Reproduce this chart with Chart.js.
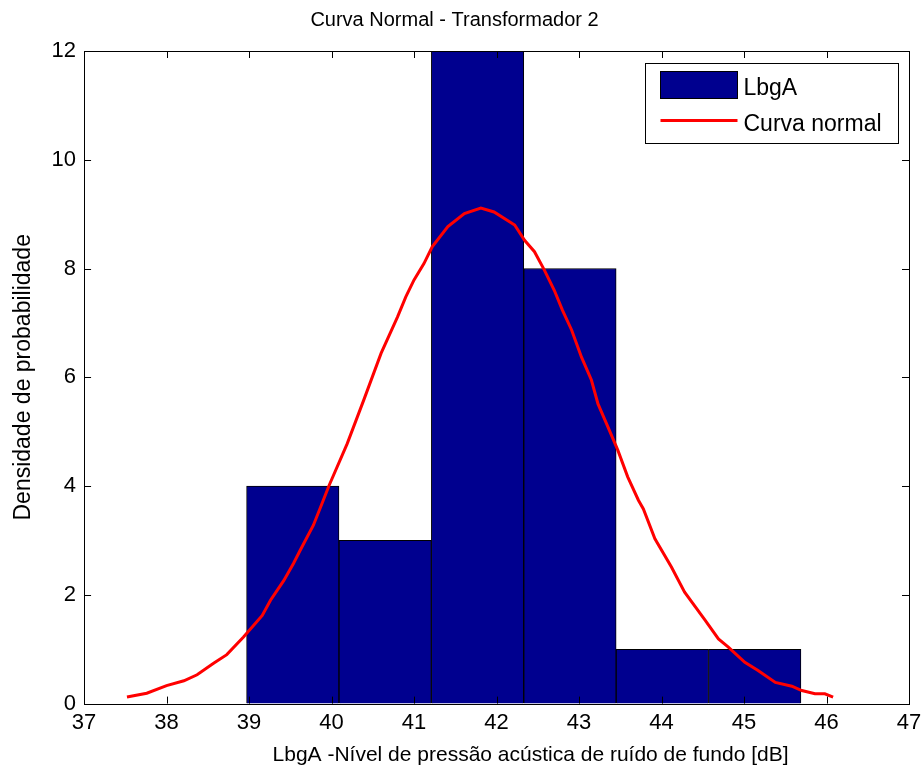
<!DOCTYPE html>
<html>
<head>
<meta charset="utf-8">
<script src="https://cdn.jsdelivr.net/npm/chart.js@4/dist/chart.umd.min.js"></script>
<style>
    body { margin: 0; background: #fff; }
</style>
</head>
<body>
<canvas id="histChart" width="923" height="771"></canvas>
<script>
// histogram bins (centres) and counts
let binCenters = [39.53, 40.65, 41.77, 42.89, 44.01, 45.13];
let binCounts = [4, 3, 12, 8, 1, 1];
// fitted normal curve
let curveX = [37.52, 37.76, 38.00, 38.21, 38.37, 38.57, 38.73, 38.93, 39.16, 39.26, 39.42, 39.54, 39.62, 39.78, 39.90,
    39.97, 40.19, 40.39, 40.60, 40.80, 40.90, 41.00, 41.12, 41.22, 41.41, 41.61, 41.81, 41.97, 42.22, 42.34, 42.46,
    42.58, 42.70, 42.80, 42.91, 43.03, 43.15, 43.23, 43.35, 43.47, 43.59, 43.72, 43.78, 43.92, 44.12, 44.28, 44.53,
    44.69, 44.81, 45.01, 45.17, 45.38, 45.58, 45.70, 45.86, 45.98, 46.08];
let curveY = [0.12, 0.19, 0.33, 0.42, 0.53, 0.74, 0.90, 1.22, 1.62, 1.90, 2.26, 2.58, 2.82, 3.28, 3.74,
    4.01, 4.78, 5.58, 6.44, 7.11, 7.48, 7.79, 8.09, 8.40, 8.77, 9.01, 9.11, 9.04, 8.80, 8.52, 8.31,
    7.97, 7.60, 7.23, 6.87, 6.37, 5.95, 5.51, 5.09, 4.66, 4.17, 3.74, 3.58, 3.03, 2.51, 2.05, 1.53,
    1.19, 1.04, 0.76, 0.61, 0.39, 0.32, 0.24, 0.18, 0.18, 0.12];
let seriesLabels = ['LbgA', 'Curva normal'];
let xAxisTitle = 'LbgA -Nível de pressão acústica de ruído de fundo [dB]';
let xMin = 37, xMax = 47;
let yMin = 0, yMax = 12;

const fontFamily = '"Liberation Sans", Arial, sans-serif';
Chart.defaults.font.family = fontFamily;
Chart.defaults.color = '#000';

// matlab style box with inward ticks + legend + x label
const boxTicks = {
    id: 'boxTicks',
    afterDatasetsDraw: (chart) => {
        const { ctx, chartArea: a, scales } = chart;
        const len = 7;
        ctx.save();
        ctx.strokeStyle = '#000';
        ctx.lineWidth = 1;
        ctx.beginPath();
        scales.x.ticks.forEach(t => {
            let px = Math.round(scales.x.getPixelForValue(t.value)) + 0.5;
            ctx.moveTo(px, a.bottom); ctx.lineTo(px, a.bottom - len);
            ctx.moveTo(px, a.top); ctx.lineTo(px, a.top + len);
        });
        scales.y.ticks.forEach(t => {
            let py = Math.round(scales.y.getPixelForValue(t.value)) + 0.5;
            ctx.moveTo(a.left, py); ctx.lineTo(a.left + len, py);
            ctx.moveTo(a.right, py); ctx.lineTo(a.right - len, py);
        });
        ctx.stroke();
        ctx.strokeRect(Math.round(a.left) + 0.5, Math.round(a.top) + 0.5,
            Math.round(a.right - a.left), Math.round(a.bottom - a.top));

        // x axis label (sits a bit right of centre in the original)
        ctx.fillStyle = '#000';
        ctx.font = '21px ' + fontFamily;
        ctx.textAlign = 'center';
        ctx.textBaseline = 'middle';
        ctx.fillText(xAxisTitle, (a.left + a.right) / 2 + 34, a.bottom + 52);

        // legend box
        const ds = chart.data.datasets;
        const barDs = ds.find(d => d.type === 'bar');
        const lineDs = ds.find(d => d.type === 'line');
        const w = 253, h = 80;
        const lx = Math.round(a.right - 11 - w) + 0.5, ly = Math.round(a.top + 12) + 0.5;
        ctx.fillStyle = '#fff';
        ctx.fillRect(lx, ly, w, h);
        ctx.strokeRect(lx, ly, w, h);
        ctx.fillStyle = barDs.backgroundColor;
        ctx.fillRect(lx + 15, ly + 8, 77, 27);
        ctx.strokeRect(lx + 15, ly + 8, 77, 27);
        ctx.strokeStyle = lineDs.borderColor;
        ctx.lineWidth = 3;
        ctx.beginPath();
        ctx.moveTo(lx + 15, ly + 57); ctx.lineTo(lx + 92, ly + 57);
        ctx.stroke();
        ctx.fillStyle = '#000';
        ctx.font = '23px ' + fontFamily;
        ctx.textAlign = 'left';
        ctx.fillText(barDs.label, lx + 98, ly + 25);
        ctx.fillText(lineDs.label, lx + 98, ly + 61);
        ctx.restore();
    }
};

const ctx = document.getElementById('histChart');
const histChart = new Chart(ctx, {
    type: 'bar',
    data: {
        datasets: [{
            type: 'line',
            label: seriesLabels[1],
            data: curveX.map((x, i) => ({ x: x, y: curveY[i] })),
            xAxisID: 'x',
            borderColor: '#ff0000',
            borderWidth: 3,
            pointRadius: 0,
            tension: 0,
            order: 0
        }, {
            type: 'bar',
            label: seriesLabels[0],
            data: binCenters.map((x, i) => ({ x: x, y: binCounts[i] })),
            xAxisID: 'xh',
            backgroundColor: 'rgb(0, 0, 143)',
            borderColor: '#000',
            borderWidth: 1,
            barPercentage: 1,
            categoryPercentage: 1,
            grouped: false,
            order: 1
        }]
    },
    options: {
        responsive: false,
        animation: false,
        layout: {
            padding: { left: 0, right: 14, top: 0, bottom: 29 }
        },
        plugins: {
            legend: { display: false },
            tooltip: { enabled: false },
            title: {
                display: true,
                text: 'Curva Normal - Transformador 2',
                color: '#000',
                font: { size: 20, weight: 'normal' },
                padding: { top: 8, bottom: 19 }
            }
        },
        scales: {
            x: {
                type: 'linear',
                min: xMin,
                max: xMax,
                offset: false,
                grid: { display: false, drawTicks: false, offset: false },
                border: { display: false },
                ticks: { stepSize: 1, padding: 6, font: { size: 22 }, color: '#000' },
                afterFit: (scale) => { scale.paddingRight = 0; }
            },
            xh: {
                type: 'linear',
                min: xMin,
                max: xMax,
                offset: false,
                display: false,
                grid: { offset: false },
                ticks: { stepSize: 10 }
            },
            y: {
                min: yMin,
                max: yMax,
                grid: { display: false, drawTicks: false },
                border: { display: false },
                ticks: { stepSize: 2, padding: 8, font: { size: 22 }, color: '#000' },
                title: {
                    display: true,
                    text: 'Densidade de probabilidade',
                    font: { size: 23 },
                    color: '#000',
                    padding: { top: 10, bottom: 6 }
                }
            }
        }
    },
    plugins: [boxTicks]
});
</script>
</body>
</html>
